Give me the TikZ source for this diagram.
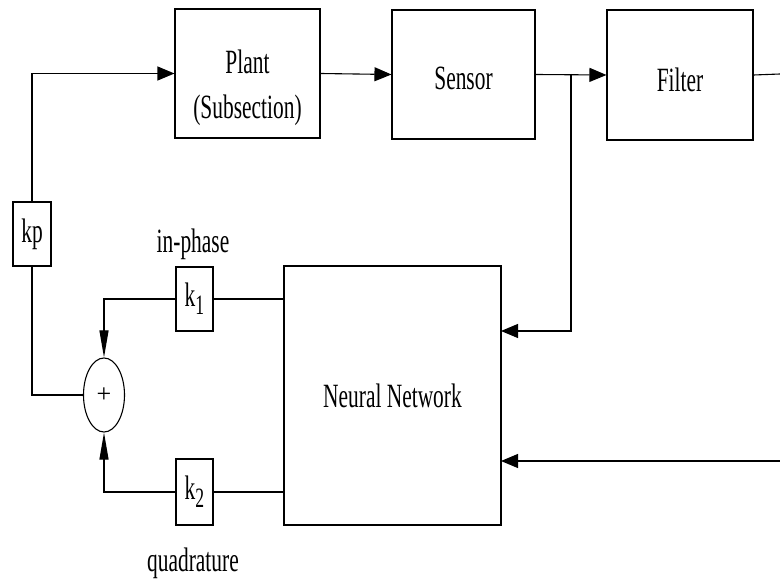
\documentclass[tikz,border=0pt]{standalone}
\usepackage{fontspec}
\setmainfont{Liberation Serif}
\usepackage{graphicx}
\usetikzlibrary{shapes.geometric,arrows.meta}
\newcommand\sqz[1]{\scalebox{0.63}[1]{#1}}
\newcommand\txtdown[2]{\raisebox{-#1}[\height][\depth]{#2}}
\newcommand\ksub[1]{\sqz{k\raisebox{-8pt}{\fontsize{28}{30}\selectfont #1}}}
\begin{document}
\begin{tikzpicture}[x=1pt,y=-1pt,
  line width=1.1pt,
  every node/.style={font=\fontsize{34}{44}\selectfont},
  blk/.style={draw, rectangle, inner sep=0pt, align=center},
  lbl/.style={inner sep=0pt},
  harr/.style={-{Triangle[length=17pt,width=14pt]}},
  varr/.style={-{Triangle[length=27pt,width=9pt]}}]
\useasboundingbox (0,0) rectangle (780,580);
% blocks
\node[blk, minimum width=145pt, minimum height=129pt] (plant) at (247.5,73.5)
  {\txtdown{14pt}{\begin{tabular}{@{}c@{}}\sqz{Plant}\\[1pt]\sqz{(Subsection)}\end{tabular}}};
\node[blk, minimum width=143pt, minimum height=129pt] (sensor) at (463.5,74.5) {\txtdown{4pt}{\sqz{Sensor}}};
\node[blk, minimum width=146pt, minimum height=130pt] (filter) at (680,75) {\txtdown{5pt}{\sqz{Filter}}};
\node[blk, minimum width=38pt, minimum height=64pt] (kp) at (32,234) {\sqz{kp}};
\node[blk, minimum width=37pt, minimum height=64pt] (k1) at (194.5,299) {\ksub{1}};
\node[blk, minimum width=37pt, minimum height=66pt] (k2) at (194.5,492) {\ksub{2}};
\node[blk, minimum width=217pt, minimum height=259pt] (nn) at (392.5,395.5) {\sqz{Neural Network}};
\node[draw, ellipse, inner sep=0pt, minimum width=41pt, minimum height=74pt] (sum) at (104,395) {\fontsize{26}{30}\selectfont +};
% labels
\node[lbl] (inph) at (193,244) {\sqz{in-phase}};
\node[lbl] (quad) at (193,563) {\sqz{quadrature}};
% coordinates
\coordinate (tap) at (571,74);
\coordinate (fout) at (780,74);
\coordinate (nnin1) at (501,331);
\coordinate (ext2) at (780,461);
\coordinate (nnin2) at (501,461);
% connectors
\draw[harr] (kp.north) |- (plant.west);
\draw[harr] (plant.east) -- (sensor.west);
\draw[harr] (sensor.east) -- (filter.west);
\draw (filter.east) -- (fout);
\draw[harr] (tap) |- (nnin1);
\draw[harr] (ext2) -- (nnin2);
\draw (kp.south) |- (sum.west);
\draw[varr] (k1.west) -| (sum.north);
\draw[varr] (k2.west) -| (sum.south);
\draw (k1.east) -- (nn.west |- k1.east);
\draw (k2.east) -- (nn.west |- k2.east);
\end{tikzpicture}
\end{document}
